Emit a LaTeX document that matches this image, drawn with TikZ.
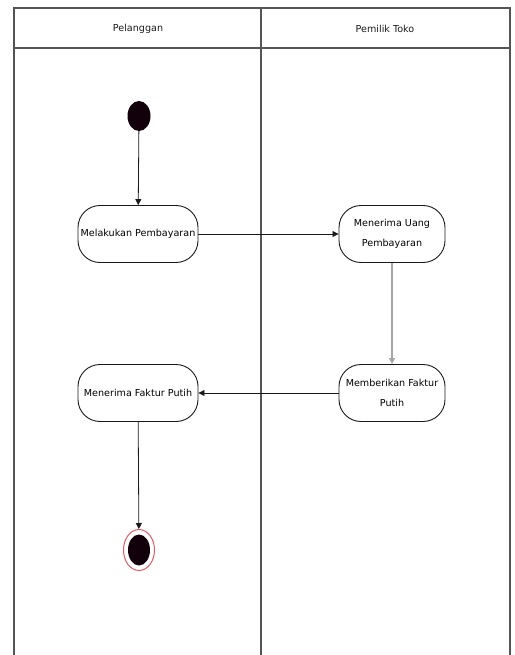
\documentclass[tikz,border=0pt]{standalone}
\usepackage{fontspec}
\setmainfont{DejaVu Sans}
\usepackage{tikz}
\usetikzlibrary{arrows.meta,shapes.geometric}
\definecolor{lane}{HTML}{555555}
\definecolor{ink}{HTML}{1A1A1A}
\definecolor{blob}{HTML}{12000A}
\definecolor{ring}{HTML}{E05A66}
\tikzset{
  lanes/.style={draw=lane, line width=1.2pt},
  act/.style={draw=ink, line width=0.9pt, rounded corners=22pt, minimum height=57pt,
    align=center, font=\fontsize{9.6}{20}\selectfont, inner sep=1pt},
  flow/.style={draw=ink, line width=0.8pt, -{Triangle[length=6pt,width=6pt]}},
  flowg/.style={draw=gray!70, line width=1.6pt, -{Triangle[length=6pt,width=6pt]}},
  dot/.style={ellipse, fill=blob, draw=none, minimum width=23pt, minimum height=30pt, inner sep=0pt},
  lab/.style={font=\fontsize{9.6}{11}\selectfont, text=ink},
}
\begin{document}
\begin{tikzpicture}[x=1pt,y=-1pt]
  \useasboundingbox (0,0) rectangle (514,655);
  % swimlanes
  \draw[lanes] (14,655) -- (14,8) -- (510,8) -- (510,655);
  \draw[lanes] (14,48) -- (510,48);
  \draw[lanes] (261,8) -- (261,655);
  \node[lab] (pelanggan) at (138,29) {Pelanggan};
  \node[lab] (pemilik) at (385,29) {Pemilik Toko};

  % actions
  \node[dot] (start) at (139,116) {};
  \node[act, minimum width=120pt] (bayar) at (138,234) {Melakukan Pembayaran};
  \node[act, minimum width=106pt] (terima) at (392,234) {Menerima Uang\\Pembayaran};
  \node[act, minimum width=106pt] (beri) at (392,393) {Memberikan Faktur\\Putih};
  \node[act, minimum width=120pt] (faktur) at (138,393) {Menerima Faktur Putih};
  \node[ellipse, draw=ring, line width=1pt, minimum width=31pt, minimum height=41pt] (end) at (139,550) {};
  \node[dot, minimum width=22pt, minimum height=31pt] (endin) at (end) {};

  \draw[flow] (start) -- (bayar);
  \draw[flow] (bayar) -- (terima);
  \draw[flowg] (terima) -- (beri);
  \draw[flow] (beri) -- (faktur);
  \draw[flow] (faktur) -- (end);
\end{tikzpicture}
\end{document}
